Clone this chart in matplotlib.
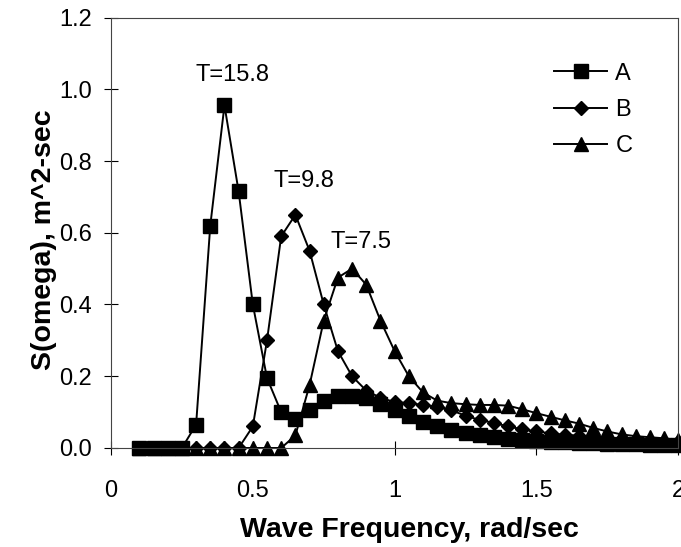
import matplotlib
matplotlib.use("Agg")
from matplotlib import pyplot as plt

plt.rcParams['font.family'] = ['Liberation Sans', 'DejaVu Sans']

freq = [0.10, 0.15, 0.20, 0.25, 0.30, 0.35, 0.40, 0.45, 0.50, 0.55,
        0.60, 0.65, 0.70, 0.75, 0.80, 0.85, 0.90, 0.95, 1.00, 1.05,
        1.10, 1.15, 1.20, 1.25, 1.30, 1.35, 1.40, 1.45, 1.50, 1.55,
        1.60, 1.65, 1.70, 1.75, 1.80, 1.85, 1.90, 1.95, 2.00]

spec_a = [0, 0, 0, 0, 0.065, 0.62, 0.955, 0.715, 0.40, 0.195,
          0.10, 0.08, 0.105, 0.13, 0.145, 0.145, 0.14, 0.122, 0.105, 0.088,
          0.072, 0.06, 0.05, 0.042, 0.035, 0.03, 0.026, 0.023, 0.02, 0.018,
          0.016, 0.014, 0.013, 0.012, 0.011, 0.01, 0.009, 0.008, 0.007]

spec_b = [0, 0, 0, 0, 0, 0, 0, 0, 0.06, 0.30,
          0.59, 0.65, 0.55, 0.40, 0.27, 0.20, 0.16, 0.14, 0.128, 0.125,
          0.12, 0.115, 0.105, 0.09, 0.078, 0.07, 0.06, 0.052, 0.046, 0.041,
          0.037, 0.034, 0.031, 0.028, 0.025, 0.022, 0.02, 0.018, 0.016]

spec_c = [0, 0, 0, 0, 0, 0, 0, 0, 0, 0,
          0, 0.035, 0.175, 0.355, 0.475, 0.50, 0.455, 0.355, 0.27, 0.20,
          0.155, 0.132, 0.125, 0.122, 0.12, 0.12, 0.118, 0.108, 0.097, 0.087,
          0.077, 0.068, 0.056, 0.046, 0.038, 0.033, 0.03, 0.027, 0.022]

labels = ['A', 'B', 'C']
periods = ['T=15.8', 'T=9.8', 'T=7.5']
period_pos = [(0.43, 1.04), (0.68, 0.745), (0.88, 0.575)]

fig = plt.figure(figsize=(6.81, 5.47), dpi=100)
ax = fig.add_axes([0.163, 0.181, 0.833, 0.787])

ax.plot(freq, spec_a, color='k', lw=1.4, marker='s', ms=9.5, label=labels[0], clip_on=False)
ax.plot(freq, spec_b, color='k', lw=1.4, marker='D', ms=7.5, label=labels[1], clip_on=False)
ax.plot(freq, spec_c, color='k', lw=1.4, marker='^', ms=10, label=labels[2], clip_on=False)

for txt, (px, py) in zip(periods, period_pos):
    ax.text(px, py, txt, fontsize=17, ha='center', va='center')

ax.set_xlim(0, 2)
ax.set_ylim(0, 1.2)
ax.set_xticks([0, 0.5, 1, 1.5, 2])
ax.set_xticklabels(['0', '0.5', '1', '1.5', '2'])
ax.set_yticks([0, 0.2, 0.4, 0.6, 0.8, 1.0, 1.2])
ax.set_yticklabels(['0.0', '0.2', '0.4', '0.6', '0.8', '1.0', '1.2'])
ax.tick_params(direction='inout', length=10, width=0.8, labelsize=17)
ax.tick_params(axis='x', pad=18)
ax.tick_params(axis='y', pad=9)
for s in ax.spines.values():
    s.set_linewidth(0.8)
    s.set_color('#444444')

ax.set_xlabel('Wave Frequency, rad/sec', fontsize=20.5, fontweight='bold', labelpad=11)
ax.set_ylabel('S(omega), m^2-sec', fontsize=20.5, fontweight='bold', labelpad=1)
ax.xaxis.label.set_x(0.526)
ax.yaxis.label.set_y(0.483)

ax.legend(loc='upper left', frameon=False, fontsize=17, handlelength=2.25,
          handletextpad=0.35, labelspacing=0.6, borderpad=0, borderaxespad=0,
          bbox_to_anchor=(0.781, 0.895))

fig.savefig('out.png', dpi=100)
